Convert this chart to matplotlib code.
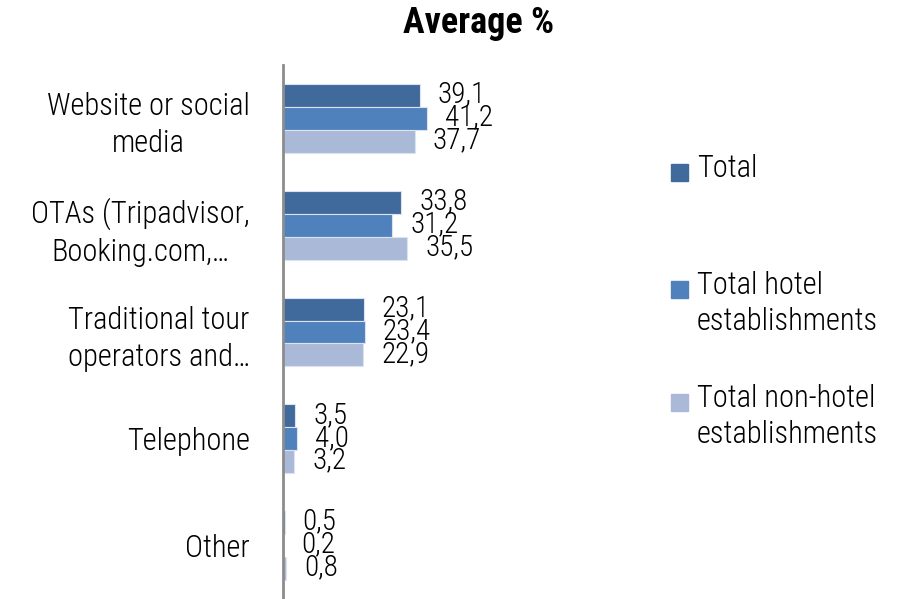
import matplotlib
matplotlib.use("Agg")
import matplotlib.pyplot as plt
from matplotlib import font_manager
from matplotlib.patches import Rectangle

categories = ["Website or social\nmedia", "OTAs (Tripadvisor,\nBooking.com,\u2026",
              "Traditional tour\noperators and\u2026", "Telephone", "Other"]
series_names = ["Total", "Total hotel\nestablishments", "Total non-hotel\nestablishments"]
total = [39.1, 33.8, 23.1, 3.5, 0.5]
hotel = [41.2, 31.2, 23.4, 4.0, 0.2]
non_hotel = [37.7, 35.5, 22.9, 3.2, 0.8]
colors = ["#416A9C", "#4F81BD", "#AAB9D7"]

names = {f.name for f in font_manager.fontManager.ttflist}
family = next((n for n in ["Roboto Condensed", "Archivo Narrow", "PT Sans Narrow",
                           "Pragati Narrow", "Liberation Sans"] if n in names), "DejaVu Sans")
plt.rcParams["font.family"] = [family, "DejaVu Sans"]
plt.rcParams["font.weight"] = 300

fig = plt.figure(figsize=(9.12, 5.99), dpi=100)
ax = fig.add_axes([283 / 912, 0.0, 357 / 912, 534 / 599])

FS = 22
bar_h = 0.215
for i, (vals, col) in enumerate(zip([total, hotel, non_hotel], colors)):
    ys = [k + (i - 1) * bar_h for k in range(len(categories))]
    bars = ax.barh(ys, vals, height=bar_h, color=col, edgecolor="#DCE3EF", linewidth=0.8)
    for b, v in zip(bars, vals):
        ax.annotate(f"{v:.1f}".replace(".", ","), (b.get_width(), b.get_y() + b.get_height() / 2),
                    xytext=(18, 1), textcoords="offset pixels", ha="left", va="center",
                    fontsize=21, color="black")

ax.set_xlim(0, 102)
ax.set_ylim(len(categories) - 0.5, -0.5)
ax.set_yticks(range(len(categories)))
ax.set_yticklabels(categories, fontsize=FS, multialignment="center", linespacing=1.35)
ax.tick_params(axis="y", length=0, pad=24)
ax.set_xticks([])
for s in ["top", "right", "bottom"]:
    ax.spines[s].set_visible(False)
ax.spines["left"].set_color("#8C8C8C")
ax.spines["left"].set_linewidth(2)

fig.text(479 / 912, 1 - 23 / 599, "Average %", ha="center", va="center",
         fontsize=26, fontweight="bold")

# legend drawn by hand so multi-line entries align to their first line
legend_y = [173, 290, 403]
for name, col, y in zip(series_names, colors, legend_y):
    fig.patches.append(Rectangle((671 / 912, 1 - (y + 8) / 599), 17 / 912, 17 / 599,
                                 transform=fig.transFigure, color=col))
    fig.text(697 / 912, 1 - (y - 19) / 599, name, ha="left", va="top", fontsize=FS,
             linespacing=1.3)

fig.savefig("out.png", dpi=100)
